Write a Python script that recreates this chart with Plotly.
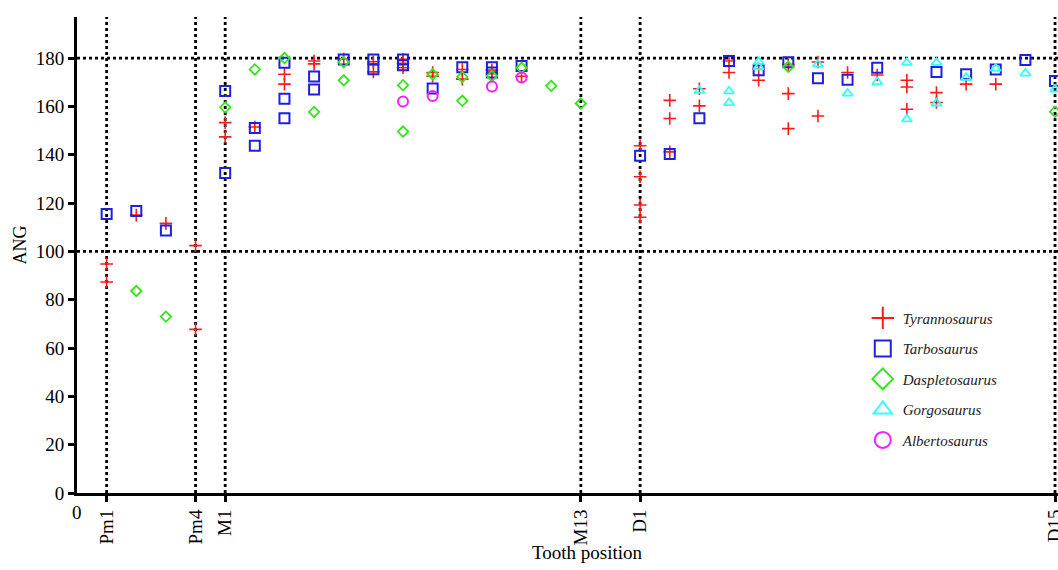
import plotly.graph_objects as go

# Tooth positions (numeric index along x axis)
tick_vals = [1, 4, 5, 17, 19, 33]
tick_text = ["Pm1", "Pm4", "M1", "M13", "D1", "D15"]
ref_x = [1, 4, 5, 17, 19, 33]
ref_y = [100, 180]

def pos(name):
    if name.startswith("Pm"):
        return int(name[2:])
    if name.startswith("M"):
        return 4 + int(name[1:])
    return 18 + int(name[1:])

tyr_pos = ["Pm1", "Pm1", "Pm2", "Pm3", "Pm4", "Pm4", "M1", "M1", "M2", "M3", "M3", "M4", "M4",
           "M5", "M6", "M6", "M7", "M7", "M7", "M8", "M8", "M9", "M9", "M10", "M10", "M11",
           "D1", "D1", "D1", "D1", "D2", "D2", "D2", "D3", "D3", "D4", "D4", "D5", "D5",
           "D6", "D6", "D6", "D7", "D7", "D8", "D9", "D10", "D10", "D10", "D11", "D11", "D12", "D13"]
tyr_val = [94.8, 87.3, 115.0, 111.6, 102.4, 67.7, 153.3, 147.4, 151.5, 173.3, 169.2, 178.8, 177.6,
           179.6, 178.5, 174.3, 179.5, 177.8, 176.0, 174.0, 172.5, 175.3, 171.3, 175.0, 173.5, 172.5,
           143.7, 130.9, 119.2, 114.1, 162.5, 155.0, 141.2, 167.3, 160.2, 178.8, 174.0, 175.5, 170.8,
           177.3, 165.3, 150.8, 178.4, 156.0, 174.0, 173.0, 170.8, 168.0, 158.8, 165.7, 161.6, 169.2, 169.2]

tar_pos = ["Pm1", "Pm2", "Pm3", "M1", "M1", "M2", "M2", "M3", "M3", "M3", "M4", "M4", "M5",
           "M6", "M6", "M7", "M7", "M8", "M9", "M10", "M10", "M11", "D1", "D2", "D3", "D4", "D5",
           "D6", "D7", "D8", "D9", "D11", "D12", "D13", "D14", "D15"]
tar_val = [115.5, 116.7, 108.6, 166.4, 132.4, 151.1, 143.7, 178.1, 163.2, 155.1, 172.4, 167.0, 179.4,
           179.4, 175.4, 179.4, 177.0, 167.4, 176.2, 176.2, 174.0, 176.7, 139.6, 140.3, 155.1, 178.8, 175.0,
           178.3, 171.6, 171.0, 176.0, 174.2, 173.3, 175.3, 179.2, 170.5]

das_pos = ["Pm2", "Pm3", "M1", "M2", "M3", "M4", "M5", "M5", "M7", "M7", "M8", "M9", "M9",
           "M10", "M11", "M12", "M13", "D6", "D15"]
das_val = [83.6, 73.0, 159.6, 175.3, 180.0, 157.7, 178.3, 170.8, 168.8, 149.6, 173.3, 172.2, 162.3,
           172.6, 176.0, 168.5, 161.2, 176.4, 157.8]

gor_pos = ["D3", "D4", "D4", "D5", "D5", "D7", "D8", "D9", "D10", "D10", "D11", "D11", "D12",
           "D13", "D14", "D15"]
gor_val = [166.5, 166.3, 161.5, 178.5, 176.3, 177.4, 165.4, 170.1, 178.1, 154.7, 178.1, 161.3, 171.9,
           175.7, 173.7, 167.1]

alb_pos = ["M7", "M8", "M10", "M11"]
alb_val = [162.0, 164.3, 168.2, 172.0]

species = [
    ("Tyrannosaurus", tyr_pos, tyr_val, "cross-thin-open", "#ff1a1a", 9, 1.6),
    ("Tarbosaurus", tar_pos, tar_val, "square-open", "#1f1fe0", 10, 2),
    ("Daspletosaurus", das_pos, das_val, "diamond-open", "#33e61a", 8, 1.8),
    ("Gorgosaurus", gor_pos, gor_val, "triangle-up-open", "#33ffff", 9, 1.8),
    ("Albertosaurus", alb_pos, alb_val, "circle-open", "#ff1aff", 10, 2),
]

FONT = "Liberation Serif"
fig = go.Figure()

for name, p, v, sym, col, sz, lw in species:
    fig.add_trace(go.Scatter(
        x=[pos(n) for n in p], y=v, mode="markers", name=name, showlegend=False,
        marker=dict(symbol=sym, size=sz, color=col, line=dict(color=col, width=lw)),
        cliponaxis=False,
    ))
# legend entries (larger symbols)
for name, p, v, sym, col, sz, lw in species:
    fig.add_trace(go.Scatter(
        x=[None], y=[None], mode="markers", name=f"<i>{name}</i>", legendgroup=name,
        marker=dict(symbol=sym, size=16, color=col, line=dict(color=col, width=2)),
    ))

for xv in ref_x:
    fig.add_shape(type="line", xref="x", yref="paper", x0=xv, x1=xv, y0=0, y1=1,
                  line=dict(color="black", width=2.8, dash="dot"), layer="below")
for yv in ref_y:
    fig.add_shape(type="line", xref="paper", yref="y", x0=0, x1=1, y0=yv, y1=yv,
                  line=dict(color="black", width=2.8, dash="dot"), layer="below")

fig.add_annotation(x=0, y=0, xref="x", yref="paper", text="0", showarrow=False,
                   yanchor="top", yshift=-7, font=dict(family=FONT, size=19, color="black"))
fig.add_annotation(x=0.52, y=-0.125, xref="paper", yref="paper", text="Tooth position",
                   showarrow=False, yanchor="middle", font=dict(family=FONT, size=19, color="black"))
fig.add_annotation(x=-0.058, y=0.52, xref="paper", yref="paper", text="ANG", textangle=-90,
                   showarrow=False, xanchor="center", yanchor="middle",
                   font=dict(family=FONT, size=18, color="black"))

fig.update_layout(
    width=1058, height=570,
    margin=dict(l=77, r=0, t=17, b=77, autoexpand=False),
    paper_bgcolor="white", plot_bgcolor="white",
    font=dict(family=FONT, size=19, color="black"),
    legend=dict(x=0.801, y=0.402, xanchor="left", yanchor="top", bgcolor="rgba(0,0,0,0)",
                font=dict(family=FONT, size=15, color="#222"), tracegroupgap=8,
                traceorder="grouped", itemsizing="trace"),
    xaxis=dict(range=[0, 33.1], tickmode="array", tickvals=tick_vals, ticktext=tick_text,
               tickangle=-90, showgrid=False, zeroline=False, showline=True, automargin=False,
               ticklabeloverflow="allow",
               linecolor="black", linewidth=3, ticks="outside", ticklen=6, tickwidth=2.5,
               tickcolor="black", tickfont=dict(family=FONT, size=19)),
    yaxis=dict(range=[0, 197], tickmode="linear", tick0=0, dtick=20, showgrid=False,
               zeroline=False, showline=True, linecolor="black", linewidth=3, automargin=False,
               ticks="outside", ticklen=6, tickwidth=2.5, tickcolor="black",
               tickfont=dict(family=FONT, size=19)),
)

fig.write_html(
    "out.html",
    config={"displayModeBar": False},
    post_script="document.body.style.margin='0';document.documentElement.style.overflow='hidden';document.body.style.overflow='hidden';",
)
